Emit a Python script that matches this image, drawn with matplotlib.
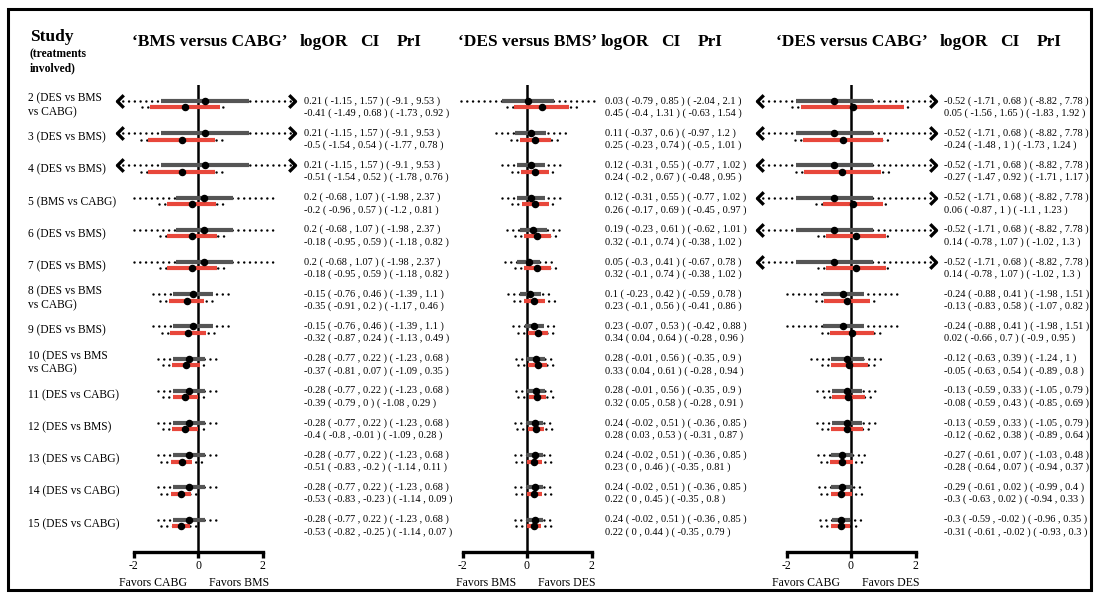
import matplotlib
matplotlib.use("Agg")
import matplotlib.pyplot as plt
from matplotlib.patches import Rectangle
from matplotlib.transforms import blended_transform_factory

plt.rcParams['font.family'] = ['Liberation Serif', 'DejaVu Serif']

# study labels (rows top to bottom)
studies = ["2 (DES vs BMS\nvs CABG)", "3 (DES vs BMS)", "4 (DES vs BMS)", "5 (BMS vs CABG)",
           "6 (DES vs BMS)", "7 (DES vs BMS)", "8 (DES vs BMS\nvs CABG)", "9 (DES vs BMS)",
           "10 (DES vs BMS\nvs CABG)", "11 (DES vs CABG)", "12 (DES vs BMS)", "13 (DES vs CABG)",
           "14 (DES vs CABG)", "15 (DES vs CABG)"]

panel_titles = ["\u2018BMS versus CABG\u2019", "\u2018DES versus BMS\u2019", "\u2018DES versus CABG\u2019"]
favors = [("Favors CABG", "Favors BMS"), ("Favors BMS", "Favors DES"), ("Favors CABG", "Favors DES")]

# logOR, CI low, CI high, PrI low, PrI high
bms_cabg_grey = [(0.21, -1.15, 1.57, -9.1, 9.53), (0.21, -1.15, 1.57, -9.1, 9.53), (0.21, -1.15, 1.57, -9.1, 9.53),
                 (0.2, -0.68, 1.07, -1.98, 2.37), (0.2, -0.68, 1.07, -1.98, 2.37), (0.2, -0.68, 1.07, -1.98, 2.37),
                 (-0.15, -0.76, 0.46, -1.39, 1.1), (-0.15, -0.76, 0.46, -1.39, 1.1),
                 (-0.28, -0.77, 0.22, -1.23, 0.68), (-0.28, -0.77, 0.22, -1.23, 0.68), (-0.28, -0.77, 0.22, -1.23, 0.68),
                 (-0.28, -0.77, 0.22, -1.23, 0.68), (-0.28, -0.77, 0.22, -1.23, 0.68), (-0.28, -0.77, 0.22, -1.23, 0.68)]
bms_cabg_red = [(-0.41, -1.49, 0.68, -1.73, 0.92), (-0.5, -1.54, 0.54, -1.77, 0.78), (-0.51, -1.54, 0.52, -1.78, 0.76),
                (-0.2, -0.96, 0.57, -1.2, 0.81), (-0.18, -0.95, 0.59, -1.18, 0.82), (-0.18, -0.95, 0.59, -1.18, 0.82),
                (-0.35, -0.91, 0.2, -1.17, 0.46), (-0.32, -0.87, 0.24, -1.13, 0.49), (-0.37, -0.81, 0.07, -1.09, 0.35),
                (-0.39, -0.79, 0, -1.08, 0.29), (-0.4, -0.8, -0.01, -1.09, 0.28), (-0.51, -0.83, -0.2, -1.14, 0.11),
                (-0.53, -0.83, -0.23, -1.14, 0.09), (-0.53, -0.82, -0.25, -1.14, 0.07)]

des_bms_grey = [(0.03, -0.79, 0.85, -2.04, 2.1), (0.11, -0.37, 0.6, -0.97, 1.2), (0.12, -0.31, 0.55, -0.77, 1.02),
                (0.12, -0.31, 0.55, -0.77, 1.02), (0.19, -0.23, 0.61, -0.62, 1.01), (0.05, -0.3, 0.41, -0.67, 0.78),
                (0.1, -0.23, 0.42, -0.59, 0.78), (0.23, -0.07, 0.53, -0.42, 0.88), (0.28, -0.01, 0.56, -0.35, 0.9),
                (0.28, -0.01, 0.56, -0.35, 0.9), (0.24, -0.02, 0.51, -0.36, 0.85), (0.24, -0.02, 0.51, -0.36, 0.85),
                (0.24, -0.02, 0.51, -0.36, 0.85), (0.24, -0.02, 0.51, -0.36, 0.85)]
des_bms_red = [(0.45, -0.4, 1.31, -0.63, 1.54), (0.25, -0.23, 0.74, -0.5, 1.01), (0.24, -0.2, 0.67, -0.48, 0.95),
               (0.26, -0.17, 0.69, -0.45, 0.97), (0.32, -0.1, 0.74, -0.38, 1.02), (0.32, -0.1, 0.74, -0.38, 1.02),
               (0.23, -0.1, 0.56, -0.41, 0.86), (0.34, 0.04, 0.64, -0.28, 0.96), (0.33, 0.04, 0.61, -0.28, 0.94),
               (0.32, 0.05, 0.58, -0.28, 0.91), (0.28, 0.03, 0.53, -0.31, 0.87), (0.23, 0, 0.46, -0.35, 0.81),
               (0.22, 0, 0.45, -0.35, 0.8), (0.22, 0, 0.44, -0.35, 0.79)]

des_cabg_grey = [(-0.52, -1.71, 0.68, -8.82, 7.78), (-0.52, -1.71, 0.68, -8.82, 7.78), (-0.52, -1.71, 0.68, -8.82, 7.78),
                 (-0.52, -1.71, 0.68, -8.82, 7.78), (-0.52, -1.71, 0.68, -8.82, 7.78), (-0.52, -1.71, 0.68, -8.82, 7.78),
                 (-0.24, -0.88, 0.41, -1.98, 1.51), (-0.24, -0.88, 0.41, -1.98, 1.51), (-0.12, -0.63, 0.39, -1.24, 1),
                 (-0.13, -0.59, 0.33, -1.05, 0.79), (-0.13, -0.59, 0.33, -1.05, 0.79), (-0.27, -0.61, 0.07, -1.03, 0.48),
                 (-0.29, -0.61, 0.02, -0.99, 0.4), (-0.3, -0.59, -0.02, -0.96, 0.35)]
des_cabg_red = [(0.05, -1.56, 1.65, -1.83, 1.92), (-0.24, -1.48, 1, -1.73, 1.24), (-0.27, -1.47, 0.92, -1.71, 1.17),
                (0.06, -0.87, 1, -1.1, 1.23), (0.14, -0.78, 1.07, -1.02, 1.3), (0.14, -0.78, 1.07, -1.02, 1.3),
                (-0.13, -0.83, 0.58, -1.07, 0.82), (0.02, -0.66, 0.7, -0.9, 0.95), (-0.05, -0.63, 0.54, -0.89, 0.8),
                (-0.08, -0.59, 0.43, -0.85, 0.69), (-0.12, -0.62, 0.38, -0.89, 0.64), (-0.28, -0.64, 0.07, -0.94, 0.37),
                (-0.3, -0.63, 0.02, -0.94, 0.33), (-0.31, -0.61, -0.02, -0.93, 0.3)]

panels = [(bms_cabg_grey, bms_cabg_red), (des_bms_grey, des_bms_red), (des_cabg_grey, des_cabg_red)]

# layout in pixels
W, H = 1099, 597
zero_px = [198, 527, 851]
text_px = [304, 605, 944]
title_px = [210, 528, 852]
clip = [(-2.5, 3.0), (-3.0, 3.0), (-2.9, 2.65)]
unit = 32.25
row0, step = 104.25, 32.2
top_px, axis_px, favor_px = 85, 552, 583
GREY = '#555555'
RED = '#e8473b'


def fx(px):
    return px / W


def fy(py):
    return 1 - py / H


def fmt(v):
    return f"{v:g}"


left_arrow = [(1, 1), (0, 0), (1, -1)]
right_arrow = [(-1, 1), (0, 0), (-1, -1)]

fig = plt.figure(figsize=(W / 100, H / 100), dpi=100)

axes = []
for k, (grey, red) in enumerate(panels):
    ax = fig.add_axes([fx(zero_px[k] - 3 * unit), fy(axis_px), 6 * unit / W, (axis_px - top_px) / H])
    ax.patch.set_alpha(0)
    ax.set_xlim(-3, 3)
    ax.set_ylim((axis_px - row0) / step, (top_px - row0) / step)
    ax.axvline(0, color='black', lw=1.8, zorder=1)
    lo_c, hi_c = clip[k]
    for series, col, dy in [(grey, GREY, -0.1), (red, RED, 0.1)]:
        for i, (est, lo, hi, plo, phi) in enumerate(series):
            y = i + dy
            ax.plot([max(plo, lo_c), min(phi, hi_c)], [y, y], color='black', lw=1.8,
                    linestyle=(0, (0.01, 2.3)), dash_capstyle='round', zorder=2, clip_on=False)
            if plo < lo_c:
                ax.plot([lo_c], [y], marker=left_arrow, ms=9, mfc='none', mec='black', mew=2.4,
                        zorder=2, clip_on=False)
            if phi > hi_c:
                ax.plot([hi_c], [y], marker=right_arrow, ms=9, mfc='none', mec='black', mew=2.4,
                        zorder=2, clip_on=False)
            ax.plot([lo, hi], [y, y], color=col, lw=3, solid_capstyle='butt', zorder=3)
            ax.plot([est], [y], 'o', color='black', ms=4.4, zorder=4)

    for s in ['top', 'right', 'left']:
        ax.spines[s].set_visible(False)
    ax.spines['bottom'].set_linewidth(2.4)
    ax.spines['bottom'].set_bounds(-2, 2)
    ax.set_yticks([])
    ax.set_xticks([-2, 0, 2])
    ax.set_xticklabels(['-2', '0', '2'])
    ax.tick_params(axis='x', length=4, width=2.4, labelsize=8.5, pad=2)
    fav_y = -(favor_px - axis_px) / (axis_px - top_px)
    tr_fav = blended_transform_factory(ax.transData, ax.transAxes)
    ax.text(-0.35, fav_y, favors[k][0], transform=tr_fav, ha='right', va='center', fontsize=8.5)
    ax.text(0.35, fav_y, favors[k][1], transform=tr_fav, ha='left', va='center', fontsize=8.5)

    # numbers column
    tr = blended_transform_factory(fig.transFigure, ax.transData)
    for i in range(len(grey)):
        for series, dy in [(grey, -0.11), (red, 0.28)]:
            est, lo, hi, plo, phi = series[i]
            s = f"{fmt(est)} ( {fmt(lo)} , {fmt(hi)} ) ( {fmt(plo)} , {fmt(phi)} )"
            fig.text(fx(text_px[k]), i + dy, s, transform=tr, ha='left', va='center', fontsize=7.35)

    # headers
    fig.text(fx(title_px[k]), fy(42), panel_titles[k], ha='center',
             va='center', fontsize=12.5, fontweight='bold')
    fig.text(fx(text_px[k] - 4), fy(42), "logOR", ha='left', va='center', fontsize=12.5, fontweight='bold')
    fig.text(fx(text_px[k] + 56), fy(42), "CI", ha='left', va='center', fontsize=12.5, fontweight='bold')
    fig.text(fx(text_px[k] + 93), fy(42), "PrI", ha='left', va='center', fontsize=12.5, fontweight='bold')
    axes.append(ax)

# study labels
tr0 = blended_transform_factory(fig.transFigure, axes[0].transData)
for i, lab in enumerate(studies):
    fig.text(fx(28), i + 0.03, lab, transform=tr0, ha='left', va='center', fontsize=8.3, linespacing=1.15)

fig.text(fx(30), fy(37), "Study", ha='left', va='center', fontsize=12.5, fontweight='bold')
fig.text(fx(30), fy(61), "(treatments\ninvolved)", ha='left', va='center', fontsize=8.4,
         fontweight='bold', linespacing=1.25)

fig.patches.append(Rectangle((fx(8), fy(590)), fx(1091) - fx(8), fy(9) - fy(590), transform=fig.transFigure,
                             fill=False, edgecolor='black', lw=2.2))

fig.savefig("out.png", dpi=100)
